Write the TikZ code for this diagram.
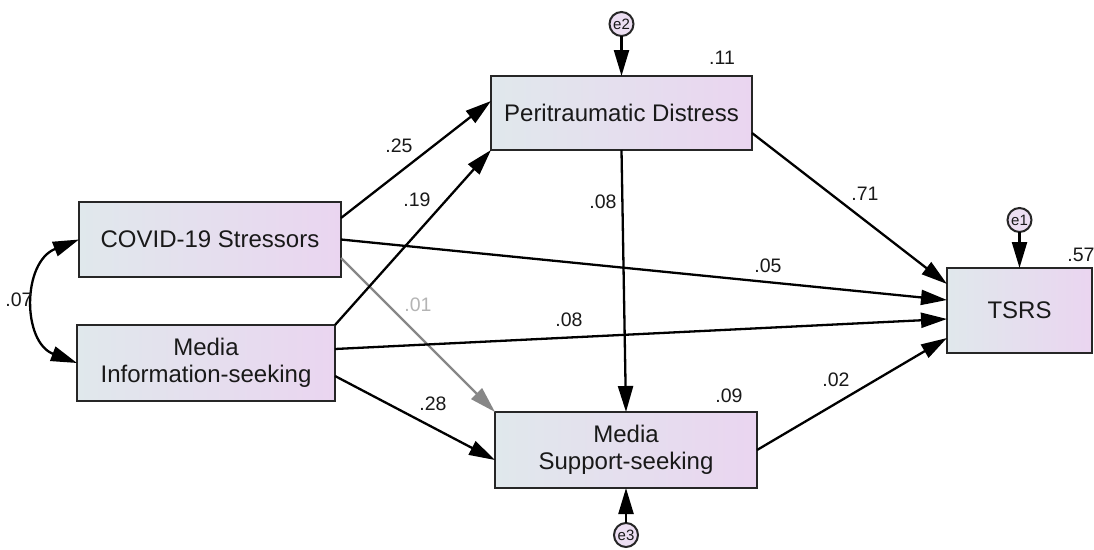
\documentclass[tikz,border=0pt]{standalone}
\usepackage{fontspec}
\setmainfont{Liberation Sans}
\usetikzlibrary{arrows.meta,calc}
\definecolor{boxL}{RGB}{224,232,236}
\definecolor{boxR}{RGB}{234,213,240}
\definecolor{errfill}{RGB}{236,222,242}
\definecolor{txt}{RGB}{25,25,25}
\definecolor{grayarr}{RGB}{135,135,135}
\definecolor{graytxt}{RGB}{180,180,180}
\begin{document}
\begin{tikzpicture}[x=1pt,y=-1pt,
  varbox/.style={draw=black!85, line width=2.8pt, left color=boxL, right color=boxR,
    inner sep=0pt, outer sep=0pt, align=center, text=txt,
    font=\fontsize{24}{28.5}\selectfont},
  errc/.style={circle, draw=black!85, line width=2pt, fill=errfill, minimum size=24pt,
    inner sep=0pt, outer sep=0pt, font=\fontsize{15}{15}\selectfont, text=txt},
  path/.style={line width=2.3pt, draw=black, -{Triangle[length=26pt,width=15pt]}},
  gpath/.style={line width=2.3pt, draw=grayarr, -{Triangle[length=26pt,width=15pt]}},
  coef/.style={font=\fontsize{19.5}{19.5}\selectfont, text=txt, inner sep=0pt},
  gcoef/.style={font=\fontsize{19.5}{19.5}\selectfont, text=graytxt, inner sep=0pt}]
\useasboundingbox (0,0) rectangle (1094,549);

\node[varbox, minimum width=261pt, minimum height=74pt] (peri) at (621.5,113) {Peritraumatic Distress};
\node[varbox, minimum width=262pt, minimum height=75pt] (covid) at (210,239.5) {COVID-19 Stressors};
\node[varbox, minimum width=258pt, minimum height=76pt] (info) at (206,363) {Media\\[-2pt]Information-seeking};
\node[varbox, minimum width=262pt, minimum height=76pt] (mss) at (626,450) {Media\\[-2pt]Support-seeking};
\node[varbox, minimum width=145pt, minimum height=85pt] (tsrs) at (1019.5,310.5) {TSRS};

\node[errc] (e2) at (621.5,24) {e2};
\node[errc] (e1) at (1019.5,220) {e1};
\node[errc] (e3) at (626,535) {e3};

\draw[path] (e2) -- (peri.north);
\draw[path] (e1) -- (tsrs.north);
\draw[path] (e3) -- (mss.south);

\draw[gpath] ($(covid.east)+(0,18.5)$) -- (mss.north west);
\draw[path] ($(covid.east)+(0,-21.5)$) -- ($(peri.west)+(0,-12)$);
\draw[path] (info.north east) -- (peri.south west);
\draw[path] (covid.east) -- ($(tsrs.west)+(0,-10.5)$);
\draw[path] ($(info.east)+(0,-14)$) -- ($(tsrs.west)+(0,8.5)$);
\draw[path] ($(info.east)+(0,13)$) -- ($(mss.west)+(0,10)$);
\draw[path] (peri.south) -- (mss.north);
\draw[path] ($(peri.east)+(0,20)$) -- ($(tsrs.west)+(0,-26.5)$);
\draw[path] (mss.east) -- ($(tsrs.west)+(0,27.5)$);

\draw[line width=2.3pt, {Triangle[length=26pt,width=15pt]}-{Triangle[length=26pt,width=15pt]}]
  (covid.west) .. controls (22,262) and (22,342) .. (info.west);

\node[coef] (l07) at (19,300) {.07};
\node[coef] (l25) at (399,146) {.25};
\node[coef] (l19) at (417,200) {.19};
\node[gcoef] (l01) at (418,305) {.01};
\node[coef] (l28) at (433,404) {.28};
\node[coef] (l08v) at (603,202) {.08};
\node[coef] (l08h) at (569,320) {.08};
\node[coef] (l05) at (768,266) {.05};
\node[coef] (l71) at (865,194) {.71};
\node[coef] (l02) at (836,380) {.02};
\node[coef] (l11) at (722,58) {.11};
\node[coef] (l09) at (729,396) {.09};
\node[coef] (l57) at (1081,255) {.57};
\end{tikzpicture}
\end{document}
